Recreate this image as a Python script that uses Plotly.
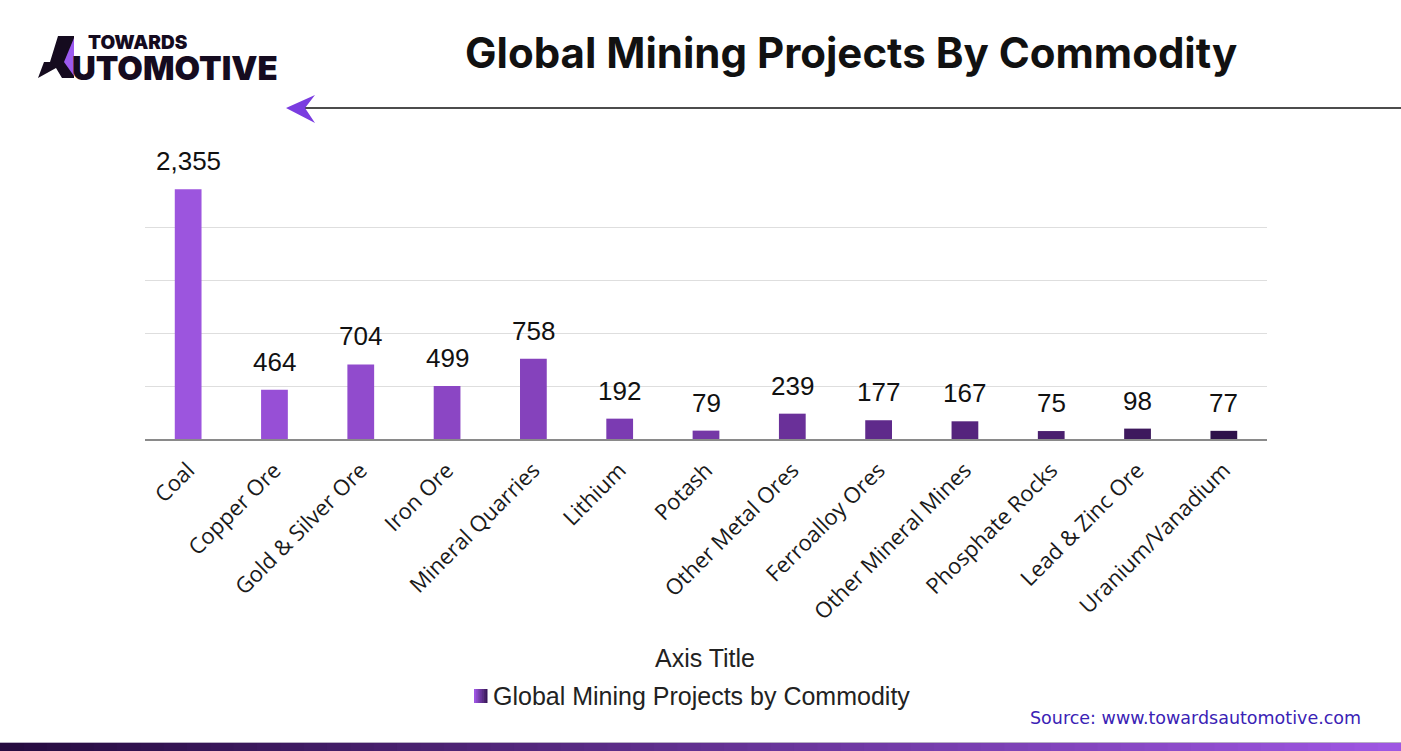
import plotly.graph_objects as go

categories = ["Coal", "Copper Ore", "Gold & Silver Ore", "Iron Ore", "Mineral Quarries",
              "Lithium", "Potash", "Other Metal Ores", "Ferroalloy Ores", "Other Mineral Mines",
              "Phosphate Rocks", "Lead & Zinc Ore", "Uranium/Vanadium"]
projects = [2355, 464, 704, 499, 758, 192, 79, 239, 177, 167, 75, 98, 77]
bar_colors = ["#9C55DE", "#974FD6", "#914BCD", "#8B46C4", "#8542BC", "#7B3BB2", "#7437A6",
              "#6A3099", "#5F2A8B", "#55247D", "#4A1F6E", "#3D185D", "#2E114A"]
series_name = "Global Mining Projects by Commodity"

W, H = 1401, 751
L, R, T, B = 145, 1267, 174, 439


def px(x):
    return (x - L) / (R - L)


def py(y):
    return (B - y) / (B - T)


def lerp(c0, c1, t):
    return "rgb({},{},{})".format(*[round(a + (b - a) * t) for a, b in zip(c0, c1)])


fig = go.Figure()
fig.add_trace(go.Bar(
    x=categories, y=projects, name=series_name,
    marker=dict(color=bar_colors, line=dict(width=0)),
    width=0.31, showlegend=False,
))

shapes = []
# arrow line
shapes.append(dict(type="line", xref="paper", yref="paper", x0=px(300), x1=px(1401),
                   y0=py(108), y1=py(108), line=dict(color="#111111", width=1.5)))
shapes.append(dict(type="path", xref="paper", yref="paper",
                   path=f"M {px(286)} {py(108)} L {px(315)} {py(95)} L {px(305)} {py(108)} L {px(315)} {py(123)} Z",
                   fillcolor="#7A3CE0", line=dict(width=0)))
# logo glyph
shapes.append(dict(type="path", xref="paper", yref="paper",
                   path=(f"M {px(58)} {py(36)} L {px(74)} {py(36)} L {px(74)} {py(78)} L {px(62)} {py(78)} "
                         f"L {px(56)} {py(68)} L {px(38)} {py(78)} L {px(44)} {py(62)} L {px(50)} {py(62)} Z"),
                   fillcolor="#150B1F", line=dict(width=0)))
shapes.append(dict(type="path", xref="paper", yref="paper",
                   path=f"M {px(74)} {py(38)} L {px(64)} {py(62)} L {px(74)} {py(76)} Z",
                   fillcolor="#9C5AF0", line=dict(width=0)))
# legend swatch (gradient)
m = 7
for i in range(m):
    shapes.append(dict(type="rect", xref="paper", yref="paper",
                       x0=px(474 + 13 * i / m), x1=px(474 + 13 * (i + 1) / m + 0.5),
                       y0=py(703), y1=py(689),
                       fillcolor=lerp((0x9E, 0x56, 0xE2), (0x3A, 0x16, 0x5C), i / (m - 1)),
                       line=dict(width=0)))
# bottom gradient band
n = 60
c0 = (0x26, 0x0B, 0x40)
c1 = (0x9E, 0x56, 0xE2)
shapes.append(dict(type="line", xref="paper", yref="paper", x0=px(0), x1=px(W),
                   y0=py(742.5), y1=py(742.5), line=dict(color="#B8B0C4", width=1)))
for i in range(n):
    shapes.append(dict(type="rect", xref="paper", yref="paper",
                       x0=px(W * i / n), x1=px(W * (i + 1) / n + 1), y0=py(752), y1=py(743),
                       fillcolor=lerp(c0, c1, i / (n - 1)), line=dict(width=0), layer="above"))

annotations = [
    dict(text="Global Mining Projects By Commodity", xref="paper", yref="paper",
         x=px(851), y=py(52), xanchor="center", yanchor="middle", showarrow=False,
         font=dict(family="Inter", size=42, color="#111111", weight=700)),
    dict(text="TOWARDS", xref="paper", yref="paper", x=px(87), y=py(42),
         xanchor="left", yanchor="middle", showarrow=False, height=18, borderpad=0,
         font=dict(family="Inter", size=19, color="#150B1F", weight=900)),
    dict(text="UTOMOTIVE", xref="paper", yref="paper", x=px(71), y=py(68),
         xanchor="left", yanchor="middle", showarrow=False, height=30, borderpad=0,
         font=dict(family="Inter", size=33, color="#150B1F", weight=900)),
    dict(text="Axis Title", xref="paper", yref="paper", x=px(705), y=py(658),
         xanchor="center", yanchor="middle", showarrow=False,
         font=dict(family="Liberation Sans, Arial", size=25, color="#222222")),
    dict(text=series_name, xref="paper", yref="paper", x=px(491), y=py(696),
         xanchor="left", yanchor="middle", showarrow=False,
         font=dict(family="Liberation Sans, Arial", size=25, color="#222222")),
    dict(text="Source: www.towardsautomotive.com", xref="paper", yref="paper", x=px(1363), y=py(718),
         xanchor="right", yanchor="middle", showarrow=False,
         font=dict(family="DejaVu Sans", size=17.5, color="#3A22B5")),
]
# data labels above bars
for c, v in zip(categories, projects):
    annotations.append(dict(x=c, y=v, xref="x", yref="y", text=f"{v:,}", showarrow=False,
                            xanchor="center", yanchor="bottom", yshift=11,
                            font=dict(family="Liberation Sans, Arial", size=26, color="#111111")))

fig.update_layout(
    width=W, height=H,
    margin=dict(l=L, r=W - R, t=T, b=H - B, pad=0),
    paper_bgcolor="white", plot_bgcolor="white",
    shapes=shapes, annotations=annotations, showlegend=False,
    xaxis=dict(tickangle=-45, tickfont=dict(family="Open Sans", size=22, color="#1a1a1a"),
               ticklabelstandoff=8,
               showline=True, linecolor="#8a8a8a", linewidth=1.5, ticks="", showgrid=False),
    yaxis=dict(range=[0, 2500], dtick=500, showticklabels=False, showgrid=True,
               gridcolor="#dedede", gridwidth=1, zeroline=False, showline=False, ticks=""),
)

fig.write_html("out.html", config={"displayModeBar": False},
               post_script="document.body.style.margin='0';document.body.style.overflow='hidden';")
